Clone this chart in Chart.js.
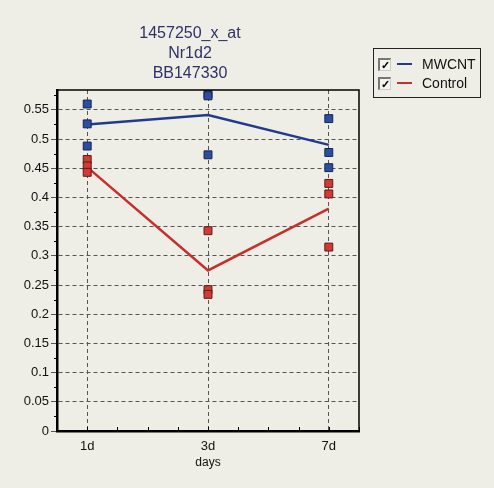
<!DOCTYPE html>
<html>
<head>
<meta charset="utf-8">
<script src="https://cdn.jsdelivr.net/npm/chart.js@4/dist/chart.umd.min.js"></script>
<style>
  html, body { margin: 0; padding: 0; background: #efeee6; }
  #wrap { position: relative; width: 494px; height: 488px; background: #efeee6; font-family: "Liberation Sans", Arial, sans-serif; }
  canvas { position: absolute; left: 0; top: 0; }
  #title { position: absolute; left: 90px; width: 200px; top: 23px; text-align: center; color: #2d3166; font-size: 16px; line-height: 20px; }
  #legend { position: absolute; left: 373px; top: 48px; width: 108px; height: 50px; border: 1px solid #222; box-sizing: border-box; font-size: 14px; color: #111; }
  .row { position: absolute; left: 4px; height: 16px; line-height: 16px; }
  .cb { position: absolute; left: 0; top: 0; width: 13px; height: 13px; border-left: 2px solid #777; border-top: 2px solid #777; border-right: 1px solid #ccc; border-bottom: 1px solid #ccc; box-sizing: border-box; background: #f4f4ee; font-size: 11px; line-height: 10px; text-align: center; color: #000; font-weight: bold; }
  .sw { position: absolute; left: 19px; top: 5px; width: 15px; height: 2px; }
  .lbl { position: absolute; left: 44px; top: -2px; white-space: nowrap; }
</style>
</head>
<body>
<div id="wrap">
  <canvas id="c" width="494" height="488"></canvas>
  <div id="title">1457250_x_at<br>Nr1d2<br>BB147330</div>
  <div id="legend">
    <div class="row" style="top:9px"><span class="cb">✓</span><span class="sw" style="background:#233a8c"></span><span class="lbl">MWCNT</span></div>
    <div class="row" style="top:28px"><span class="cb">✓</span><span class="sw" style="background:#c4302b"></span><span class="lbl">Control</span></div>
  </div>
</div>
<script>
// time points on the x axis
const categories = ['1d', '3d', '7d'];
// replicate measurements per time point
const mwcntPoints = [[0.560, 0.526, 0.488], [0.577, 0.574, 0.473], [0.535, 0.477, 0.451]];
const controlPoints = [[0.465, 0.454, 0.443], [0.343, 0.242, 0.234], [0.424, 0.406, 0.315]];
// group mean lines
const mwcntLine = [0.525, 0.541, 0.490];
const controlLine = [0.452, 0.275, 0.381];
// y axis tick labels
const yTicks = [0, 0.05, 0.1, 0.15, 0.2, 0.25, 0.3, 0.35, 0.4, 0.45, 0.5, 0.55];

const BLUE = '#233a8c', RED = '#c4302b';

function scatter(points) {
  const out = [];
  points.forEach((vals, i) => vals.forEach(v => out.push({ x: i, y: v })));
  return out;
}
function line(vals) { return vals.map((v, i) => ({ x: i, y: v })); }

// frame around the plot area plus minor ticks on the axes
const framePlugin = {
  id: 'frame',
  afterDraw(chart) {
    const { ctx, chartArea: a, scales } = chart;
    ctx.save();
    ctx.strokeStyle = '#000';
    ctx.lineWidth = 1.5;
    ctx.strokeRect(a.left, a.top, a.right - a.left, a.bottom - a.top);
    ctx.lineWidth = 1;
    ctx.beginPath();
    for (let v = -0.25; v <= 2.25 + 1e-9; v += 0.25) {
      const x = Math.round(scales.x.getPixelForValue(v)) + 0.5;
      ctx.moveTo(x, a.bottom); ctx.lineTo(x, a.bottom - 4);
    }
    for (let v = 0.025; v < 0.58; v += 0.05) {
      const y = Math.round(scales.y.getPixelForValue(v)) + 0.5;
      ctx.moveTo(a.left, y); ctx.lineTo(a.left - 3, y);
    }
    ctx.stroke();
    ctx.restore();
  }
};

new Chart(document.getElementById('c'), {
  data: {
    datasets: [
      { type: 'line', label: 'Control', data: line(controlLine), borderColor: RED, borderWidth: 2.5, pointRadius: 0, fill: false, order: 3 },
      { type: 'line', label: 'MWCNT', data: line(mwcntLine), borderColor: BLUE, borderWidth: 2.5, pointRadius: 0, fill: false, order: 2 },
      { type: 'scatter', label: 'Control reps', data: scatter(controlPoints), pointStyle: 'rect', pointRadius: 5.6, backgroundColor: '#d23a35', borderColor: '#5c1a18', borderWidth: 1, order: 1 },
      { type: 'scatter', label: 'MWCNT reps', data: scatter(mwcntPoints), pointStyle: 'rect', pointRadius: 5.6, backgroundColor: '#2b4f9e', borderColor: '#17244f', borderWidth: 1, order: 0 }
    ]
  },
  options: {
    responsive: false,
    animation: false,
    devicePixelRatio: 1,
    layout: { padding: { left: 0, top: 90, right: 135, bottom: 18 } },
    plugins: { legend: { display: false }, tooltip: { enabled: false }, title: { display: false } },
    scales: {
      x: {
        type: 'linear', min: -0.25, max: 2.25,
        afterBuildTicks: s => { s.ticks = categories.map((c, i) => ({ value: i })); },
        afterFit: s => { s.height = 39; },
        ticks: { callback: v => categories[v], color: '#111', font: { family: 'Liberation Sans', size: 13 }, padding: 8 },
        title: { display: true, text: 'days', color: '#111', font: { family: 'Liberation Sans', size: 12 }, padding: 0 },
        grid: { color: '#555', tickLength: 4, drawTicks: false },
        border: { display: true, color: '#000', width: 2.5, dash: [4, 3] }
      },
      y: {
        type: 'linear', min: 0, max: 0.584,
        afterBuildTicks: s => { s.ticks = yTicks.map(v => ({ value: v })); },
        afterFit: s => { s.width = 57; },
        ticks: { callback: v => String(+v.toFixed(2)), color: '#111', font: { family: 'Liberation Sans', size: 13 }, padding: 2 },
        grid: { color: '#555', tickLength: 6 },
        border: { display: true, color: '#000', width: 2.5, dash: [4, 3] }
      }
    }
  },
  plugins: [framePlugin]
});
</script>
</body>
</html>
